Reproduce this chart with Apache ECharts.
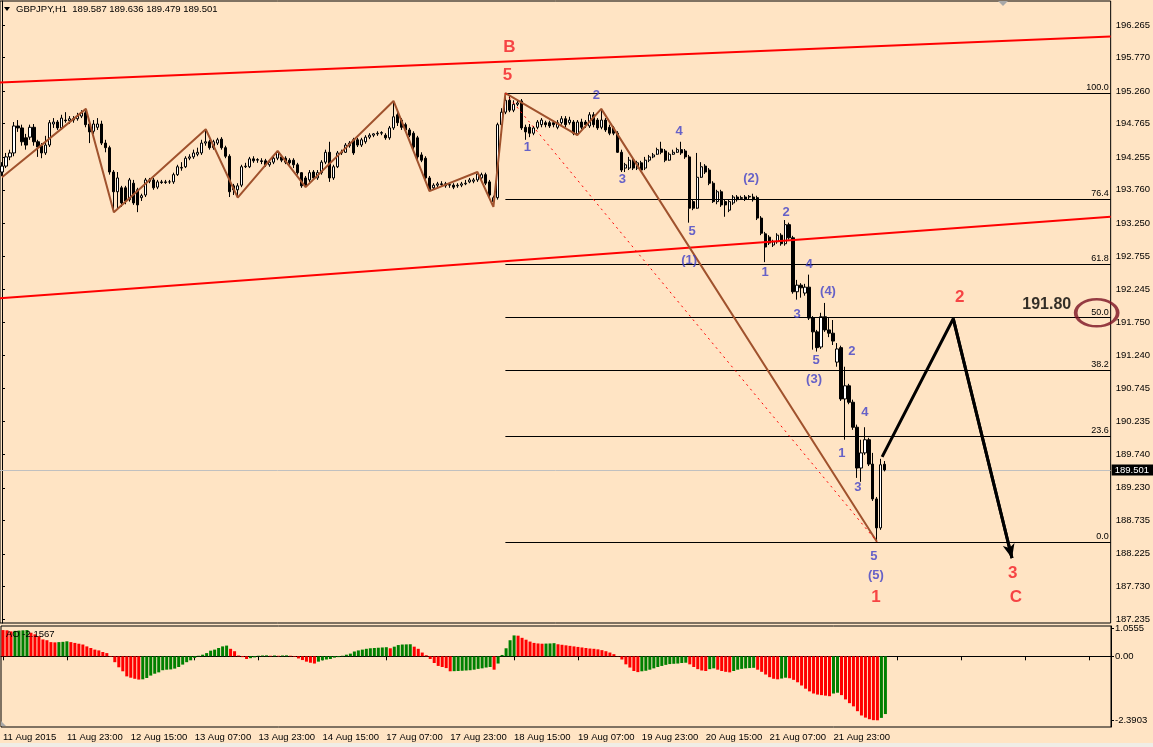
<!DOCTYPE html>
<html><head><meta charset="utf-8">
<script src="https://cdn.jsdelivr.net/npm/echarts@6/dist/echarts.min.js"></script>
<style>html,body{margin:0;padding:0;background:#FFE4C4;}#c{width:1153px;height:747px;}</style>
</head><body><div id="c"></div>
<script>
const symbolName = 'GBPJPY,H1';
const timeTickLabels = ['11 Aug 2015','11 Aug 23:00','12 Aug 15:00','13 Aug 07:00','13 Aug 23:00','14 Aug 15:00','17 Aug 07:00','17 Aug 23:00','18 Aug 15:00','19 Aug 07:00','19 Aug 23:00','20 Aug 15:00','21 Aug 07:00','21 Aug 23:00'];
const priceTicks = [196.265,195.770,195.260,194.765,194.255,193.760,193.250,192.755,192.245,191.750,191.240,190.745,190.235,189.740,189.230,188.735,188.225,187.730,187.235];
const aoTicks = [1.0555, 0, -2.3903];
// [open, close, low, high]
const candles = [
[194.03,194.12,193.97,194.18],[194.12,194.26,194.09,194.32],[194.26,194.32,194.21,194.37],[194.32,194.73,194.27,194.79],
[194.73,194.70,194.64,194.82],[194.70,194.49,194.43,194.75],[194.55,194.44,194.37,194.61],[194.56,194.71,194.52,194.75],
[194.71,194.49,194.43,194.76],[194.49,194.41,194.26,194.52],[194.43,194.32,194.24,194.47],[194.32,194.44,194.29,194.58],
[194.44,194.78,194.41,194.82],[194.76,194.79,194.70,194.85],[194.79,194.70,194.67,194.82],[194.70,194.85,194.67,194.90],
[194.82,194.81,194.78,194.94],[194.81,194.84,194.76,194.88],[194.84,194.82,194.78,194.88],[194.84,194.88,194.81,194.93],
[194.88,194.93,194.85,194.97],[194.93,194.75,194.71,194.99],[194.76,194.64,194.47,194.81],[194.65,194.76,194.61,194.82],
[194.71,194.76,194.67,194.85],[194.76,194.47,194.44,194.81],[194.47,194.40,194.33,194.52],[194.40,194.03,193.99,194.43],
[194.03,193.73,193.42,194.06],[193.73,193.94,193.48,194.03],[193.79,193.56,193.50,193.82],[193.79,193.59,193.54,193.82],
[193.61,193.91,193.58,193.94],[193.86,193.56,193.53,193.91],[193.76,193.53,193.42,193.79],[193.64,193.67,193.59,193.70],
[193.68,193.91,193.65,193.94],[193.91,193.89,193.86,193.94],[193.91,193.79,193.76,193.94],[193.80,193.88,193.77,193.91],
[193.88,193.87,193.85,193.91],[193.87,193.88,193.85,193.91],[193.88,193.88,193.85,193.91],[193.88,193.99,193.85,194.02],
[193.99,194.11,193.97,194.14],[194.09,194.10,194.05,194.18],[194.11,194.24,194.09,194.27],[194.24,194.26,194.21,194.30],
[194.26,194.32,194.23,194.37],[194.30,194.33,194.27,194.40],[194.32,194.47,194.29,194.52],[194.47,194.49,194.43,194.68],
[194.49,194.40,194.37,194.52],[194.40,194.49,194.37,194.52],[194.47,194.52,194.44,194.55],[194.53,194.40,194.37,194.56],
[194.40,194.27,194.24,194.43],[194.27,193.73,193.65,194.30],[193.82,193.76,193.68,193.85],[193.76,193.82,193.64,193.86],
[193.83,194.11,193.80,194.14],[194.11,194.12,194.09,194.17],[194.11,194.23,194.09,194.26],[194.23,194.20,194.17,194.27],
[194.21,194.22,194.17,194.24],[194.20,194.19,194.15,194.24],[194.20,194.14,194.11,194.23],[194.14,194.18,194.11,194.21],
[194.18,194.24,194.15,194.27],[194.24,194.33,194.21,194.35],[194.26,194.21,194.18,194.29],[194.24,194.18,194.15,194.27],
[194.21,194.17,194.14,194.24],[194.21,194.14,194.09,194.24],[194.14,194.02,193.99,194.17],[194.02,193.82,193.79,194.03],
[193.94,193.82,193.80,193.97],[193.91,194.02,193.88,194.06],[194.03,193.94,193.91,194.06],[193.94,194.02,193.91,194.06],
[194.02,194.18,193.99,194.21],[194.18,194.33,194.15,194.37],[194.33,193.94,193.88,194.49],[193.94,194.11,193.91,194.14],
[194.11,194.32,194.09,194.35],[194.32,194.33,194.29,194.37],[194.33,194.44,194.32,194.47],[194.43,194.47,194.40,194.50],
[194.52,194.32,194.29,194.55],[194.52,194.44,194.41,194.55],[194.44,194.52,194.41,194.55],[194.49,194.56,194.46,194.59],
[194.56,194.59,194.53,194.62],[194.59,194.61,194.56,194.62],[194.61,194.62,194.58,194.65],[194.62,194.63,194.59,194.65],
[194.59,194.55,194.52,194.62],[194.55,194.70,194.52,194.73],[194.70,194.87,194.67,195.11],[194.90,194.78,194.73,194.94],
[194.82,194.71,194.67,194.85],[194.75,194.67,194.64,194.78],[194.67,194.59,194.56,194.70],[194.62,194.41,194.37,194.65],
[194.55,194.26,194.21,194.58],[194.29,194.21,194.18,194.33],[194.24,193.94,193.91,194.27],[193.94,193.76,193.74,193.97],
[193.79,193.83,193.76,193.86],[193.83,193.85,193.80,193.88],[193.85,193.84,193.82,193.89],[193.85,193.82,193.79,193.88],
[193.83,193.84,193.79,193.86],[193.83,193.80,193.77,193.86],[193.82,193.83,193.79,193.86],[193.83,193.85,193.80,193.88],
[193.85,193.86,193.83,193.91],[193.88,193.91,193.86,193.94],[193.89,193.91,193.86,193.94],[193.91,194.00,193.88,194.03],
[193.94,193.99,193.91,194.02],[193.99,193.86,193.83,194.02],[193.88,193.68,193.61,193.91],[193.58,193.64,193.50,193.67],
[193.64,194.75,193.61,194.78],[194.75,194.94,194.71,195.00],[194.94,195.12,194.91,195.23],[195.12,194.97,194.94,195.19],
[194.97,195.06,194.94,195.12],[195.06,195.08,195.03,195.12],[195.11,194.70,194.67,195.14],[194.71,194.64,194.52,194.75],
[194.71,194.62,194.56,194.76],[194.62,194.70,194.59,194.73],[194.71,194.79,194.68,194.82],[194.75,194.82,194.71,194.85],
[194.78,194.75,194.71,194.81],[194.78,194.73,194.70,194.81],[194.78,194.75,194.71,194.81],[194.71,194.78,194.68,194.82],
[194.78,194.84,194.75,194.88],[194.84,194.75,194.71,194.88],[194.78,194.82,194.75,194.87],[194.79,194.62,194.59,194.82],
[194.61,194.79,194.59,194.82],[194.79,194.71,194.68,194.84],[194.79,194.75,194.70,194.82],[194.73,194.90,194.70,194.94],
[194.90,194.75,194.71,194.94],[194.82,194.70,194.67,194.85],[194.71,194.82,194.68,194.99],[194.82,194.67,194.64,194.85],
[194.71,194.62,194.59,194.75],[194.70,194.62,194.59,194.73],[194.62,194.33,194.32,194.65],[194.33,194.06,194.03,194.37],
[194.09,194.14,194.03,194.17],[194.09,194.21,194.06,194.26],[194.21,194.09,194.06,194.24],[194.09,194.17,194.06,194.20],
[194.17,194.06,194.03,194.20],[194.09,194.21,194.06,194.26],[194.21,194.26,194.18,194.29],[194.26,194.29,194.24,194.32],
[194.30,194.37,194.29,194.40],[194.38,194.33,194.30,194.49],[194.35,194.21,194.18,194.38],[194.21,194.30,194.20,194.33],
[194.30,194.33,194.29,194.37],[194.33,194.37,194.32,194.40],[194.37,194.32,194.29,194.49],[194.35,194.26,194.23,194.38],
[194.26,193.48,193.26,194.29],[193.58,193.48,193.45,193.61],[193.48,193.95,193.47,194.32],[193.95,194.11,193.94,194.18],
[194.12,194.03,194.00,194.15],[194.06,193.86,193.83,194.09],[193.86,193.58,193.56,193.89],[193.58,193.73,193.54,193.76],
[193.73,193.53,193.50,193.76],[193.58,193.53,193.35,193.61],[193.45,193.58,193.42,193.61],[193.56,193.65,193.53,193.68],
[193.65,193.61,193.58,193.68],[193.64,193.63,193.61,193.67],[193.65,193.62,193.59,193.68],[193.65,193.66,193.62,193.68],
[193.65,193.61,193.58,193.70],[193.64,193.33,193.30,193.67],[193.33,193.10,193.07,193.36],[193.09,192.89,192.66,193.12],
[193.04,192.95,192.92,193.07],[192.92,192.97,192.89,193.00],[192.97,193.07,192.94,193.10],[193.07,192.94,192.91,193.10],
[192.94,193.23,192.91,193.30],[193.23,193.03,193.00,193.26],[193.03,192.21,192.18,193.06],[192.21,192.31,192.09,192.39],
[192.31,192.27,192.12,192.34],[192.19,192.28,192.15,192.33],[192.28,191.81,191.78,192.47],[191.81,191.60,191.33,191.84],
[191.60,191.36,191.30,191.63],[191.37,191.83,191.34,191.89],[191.83,191.63,191.60,192.04],[191.63,191.58,191.52,191.81],
[191.58,191.46,191.40,191.78],[191.14,191.34,191.07,191.43],[191.36,190.58,190.55,191.39],[190.58,190.78,189.96,191.07],
[190.78,190.53,190.50,190.81],[190.53,190.15,190.11,190.57],[190.15,189.53,189.38,190.19],[189.53,189.76,189.32,189.96],
[189.76,189.96,189.73,190.15],[189.96,189.59,189.56,189.99],[189.59,189.06,189.03,189.76],[189.06,188.62,188.41,189.09],
[188.62,189.58,188.59,189.67],[189.587,189.501,189.479,189.636]
];
const ao = [
0.98,0.97,0.93,0.95,0.96,0.97,0.98,
0.88,0.82,0.75,0.63,0.60,0.53,0.52,
0.53,0.54,0.56,
0.53,0.50,0.47,0.44,0.37,0.31,0.25,0.22,0.16,0.12,-0.02,-0.22,-0.41,-0.56,-0.75,-0.80,-0.84,-0.87,
-0.86,-0.81,-0.72,-0.65,-0.60,-0.52,-0.50,-0.49,-0.46,-0.40,-0.31,-0.22,-0.15,-0.06,0.02,
0.06,0.12,0.21,0.25,0.31,0.37,0.40,
0.28,0.19,0.03,-0.03,-0.10,
-0.07,-0.04,0.02,0.03,0.035,0.02,0.03,0.02,0.03,0.035,0.02,-0.02,-0.08,-0.14,-0.20,-0.24,-0.27,
-0.20,-0.15,-0.12,-0.10,-0.05,-0.03,0.02,0.06,0.10,0.18,0.22,0.25,0.28,0.30,0.31,0.32,0.33,0.34,
0.30,0.36,0.42,0.44,0.445,0.45,
0.36,0.28,0.14,0.04,-0.10,-0.25,-0.36,-0.40,-0.44,-0.56,
-0.555,-0.55,-0.54,-0.53,-0.52,-0.50,-0.47,-0.45,-0.42,-0.40,
-0.50,-0.27,0.05,0.30,0.60,0.78,
0.77,0.69,0.62,0.55,0.50,0.48,0.47,
0.475,0.48,0.49,
0.45,0.43,0.41,0.39,0.37,0.35,0.33,0.31,0.29,0.28,0.26,0.23,0.19,0.14,0.08,0.01,-0.12,-0.30,-0.42,-0.55,-0.59,
-0.56,-0.54,-0.50,-0.45,-0.40,-0.36,-0.32,-0.29,-0.28,-0.27,-0.25,-0.24,
-0.30,-0.40,-0.48,-0.53,-0.55,
-0.48,-0.45,
-0.50,-0.55,-0.58,-0.60,
-0.55,-0.50,-0.47,-0.45,-0.44,-0.43,
-0.50,-0.58,-0.68,-0.78,-0.84,-0.86,
-0.83,-0.80,
-0.82,-0.88,-0.97,-1.09,-1.21,-1.31,-1.39,-1.43,-1.45,-1.47,-1.49,
-1.39,-1.36,
-1.45,-1.61,-1.75,-1.87,-2.05,-2.21,-2.29,-2.35,-2.385,-2.3903,
-2.30,-2.1567
];
// overlays: [barIndex, price]
const zigzag = [[0,193.95],[21,194.99],[28,193.42],[51,194.68],[59,193.64],[69,194.35],[76,193.80],[98,195.11],[107,193.74],[119,194.03],[123,193.50],[126,195.23],[144,194.59],[150,194.99],[219,188.41]];
const channelUpper = [[-0.5,195.39],[277.5,196.09]];
const channelLower = [[-0.5,192.11],[277.5,193.35]];
const trendDashed = [[126,195.23],[219,188.41]];
const projection = [[220.3,189.70],[238.1,191.80],[252.8,188.16]];
const fibStart = 126;
const fibLevels = [['100.0',195.231],['76.4',193.621],['61.8',192.624],['50.0',191.818],['38.2',191.014],['23.6',190.017],['0.0',188.407]];
const blueLabels = [[131.5,194.41,'1'],[148.75,195.20,'2'],[155.25,193.91,'3'],[169.5,194.65,'4'],[172.75,193.12,'5'],[172,192.69,'(1)'],
 [187.5,193.94,'(2)'],[196.25,193.41,'2'],[191,192.51,'1'],[202,192.62,'4'],[206.75,192.21,'(4)'],[199,191.86,'3'],
 [203.75,191.17,'5'],[203.25,190.88,'(3)'],[212.75,191.31,'2'],[216,190.38,'4'],[210.25,189.75,'1'],[214.25,189.23,'3'],
 [218.25,188.18,'5'],[218.75,187.89,'(5)']];
const redLabels = [[127,195.93,'B'],[126.5,195.50,'5'],[218.75,187.56,'1'],[239.75,192.12,'2'],[253,187.93,'3'],[253.75,187.56,'C']];
const targetLabel = [261.5,192.01,'191.80'];
const ellipseAt = [274,191.89];

const N = 278;
const cats = Array.from({length:N},(_,i)=>String(i));
const FONT = 'Liberation Sans';
const last = candles[candles.length-1];
const fmt = v => v.toFixed(3);
const headerText = symbolName + '  ' + [last[0],last[3],last[2],last[1]].map(fmt).join(' ');
const aoText = 'AO ' + ao[ao.length-1].toFixed(4);
const currentPrice = last[1];

const chart = echarts.init(document.getElementById('c'));
const lineSeries = (data, color, width, type, z) => ({
  type:'line', xAxisIndex:1, yAxisIndex:0, data, symbol:'none', silent:true, z:z||4,
  lineStyle:{color, width, type:type||'solid'}
});
const labelSeries = (arr, color, size, weight) => ({
  type:'scatter', xAxisIndex:1, yAxisIndex:0, silent:true, z:10,
  symbol:'circle', symbolSize:1, itemStyle:{color:'rgba(0,0,0,0)'},
  data: arr.map(a=>({name:a[2], value:[a[0],a[1]]})),
  label:{show:true, position:'inside', formatter:'{b}', color, fontSize:size, fontWeight:weight, fontFamily:FONT}
});

const option = {
  animation:false,
  backgroundColor:'#FFE4C4',
  textStyle:{fontFamily:FONT},
  title:[
    {text:headerText, left:16, top:4, padding:0, textStyle:{fontSize:9.5, fontWeight:'normal', color:'#000', fontFamily:FONT}},
    {text:aoText, left:6, top:629, padding:0, z:20, textStyle:{fontSize:9.5, fontWeight:'normal', color:'#000', fontFamily:FONT}}
  ],
  graphic:[
    {type:'polygon', shape:{points:[[4,7],[10,7],[7,11]]}, style:{fill:'#000'}},
    {type:'polygon', shape:{points:[[998,1],[1008,1],[1003,6]]}, style:{fill:'#A8A8A8'}},
    {type:'polygon', shape:{points:[[1,721],[1,726],[6,726]]}, style:{fill:'#A8A8A8'}},
    {type:'rect', shape:{x:0,y:743,width:1153,height:4}, style:{fill:'#F0EDE6'}}
  ],
  grid:[
    {left:0, top:1, width:1111, height:622, show:true, borderColor:'#000', borderWidth:1, backgroundColor:'rgba(0,0,0,0)'},
    {left:0, top:626, width:1111, height:101, show:true, borderColor:'#000', borderWidth:1, backgroundColor:'rgba(0,0,0,0)'}
  ],
  xAxis:[
    {type:'category', gridIndex:0, data:cats, boundaryGap:true, axisLine:{show:false}, axisTick:{show:false}, axisLabel:{show:false}, splitLine:{show:false}},
    {type:'value', gridIndex:0, min:-0.5, max:N-0.5, show:false, splitLine:{show:false}},
    {type:'category', gridIndex:1, data:cats, boundaryGap:true,
     axisLine:{show:true, lineStyle:{color:'#000'}},
     axisTick:{show:true, interval:15, alignWithLabel:true, length:4, lineStyle:{color:'#000'}},
     axisLabel:{interval:15, align:'left', margin:5, fontSize:9.5, color:'#000', fontFamily:FONT,
       formatter:(v,i)=> timeTickLabels[i/16] || ''},
     splitLine:{show:false}}
  ],
  yAxis:[
    {type:'value', gridIndex:0, position:'right', min:187.174, max:196.630, splitLine:{show:false},
     axisLine:{show:true, lineStyle:{color:'#000'}},
     axisTick:{show:true, length:3, customValues:priceTicks, lineStyle:{color:'#000'}},
     axisLabel:{show:true, customValues:priceTicks, formatter:v=>v.toFixed(3), margin:5, fontSize:9.5, color:'#000', fontFamily:FONT}},
    {type:'value', gridIndex:1, position:'right', min:-2.6405, max:1.1317, splitLine:{show:false},
     axisLine:{show:true, lineStyle:{color:'#000'}},
     axisTick:{show:true, length:3, customValues:aoTicks, lineStyle:{color:'#000'}},
     axisLabel:{show:true, customValues:aoTicks, formatter:v=> v===0 ? '0.00' : v.toFixed(4), margin:4, fontSize:9.5, color:'#000', fontFamily:FONT}}
  ],
  series:[
    {type:'candlestick', xAxisIndex:0, yAxisIndex:0, data:candles, barWidth:2.6, z:3, silent:true,
     itemStyle:{color:'#FFFFFF', color0:'#000000', borderColor:'#000000', borderColor0:'#000000', borderWidth:1},
     markLine:{symbol:['none','none'], silent:true, z:1,
       lineStyle:{color:'#C0C0C0', width:1, type:'solid'},
       label:{show:true, position:'end', distance:1, formatter:currentPrice.toFixed(3), backgroundColor:'#000', color:'#fff',
              padding:[1,5,0,3], fontSize:9.5, fontFamily:FONT},
       data:[{yAxis:currentPrice}]}},
    Object.assign(lineSeries([[fibStart,fibLevels[0][1]]],'#000',1,'solid',4), {
      markLine:{symbol:['none','none'], silent:true,
        lineStyle:{color:'#000', width:1, type:'solid'},
        label:{show:true, position:'insideEndTop', formatter:'{b}', fontSize:9, color:'#000', fontFamily:FONT, distance:[2,1]},
        data: fibLevels.map(f=>[{name:f[0], coord:[fibStart,f[1]]},{coord:[N-0.5,f[1]]}])}
    }),
    lineSeries(channelUpper,'#FF0000',2),
    lineSeries(channelLower,'#FF0000',2),
    lineSeries(zigzag,'#A0522D',2,'solid',5),
    lineSeries(trendDashed,'#FF0000',1,[2,4],5),
    Object.assign(lineSeries(projection,'#000',3,'solid',6), {
      markLine:{symbol:['none','arrow'], symbolSize:[9,14], silent:true,
        lineStyle:{color:'#000', width:3, type:'solid'}, label:{show:false},
        data:[[{coord:projection[1]},{coord:projection[2]}]]}
    }),
    labelSeries(blueLabels,'#4040C8',13,'bold'),
    labelSeries(redLabels,'#F41C24',17,'bold'),
    labelSeries([targetLabel],'#000',16,'bold'),
    {type:'scatter', xAxisIndex:1, yAxisIndex:0, silent:true, z:9, symbol:'circle', symbolSize:[42,27],
     itemStyle:{color:'rgba(0,0,0,0)', borderColor:'#7A1022', borderWidth:3}, data:[ellipseAt]},
    {type:'bar', xAxisIndex:2, yAxisIndex:1, barWidth:3, silent:true,
     data: ao.map((v,i)=>({value:v, itemStyle:{color: (i>0 && v>ao[i-1]) ? '#008000' : '#FF0000'}}))}
  ]
};
chart.setOption(option);
</script></body></html>
